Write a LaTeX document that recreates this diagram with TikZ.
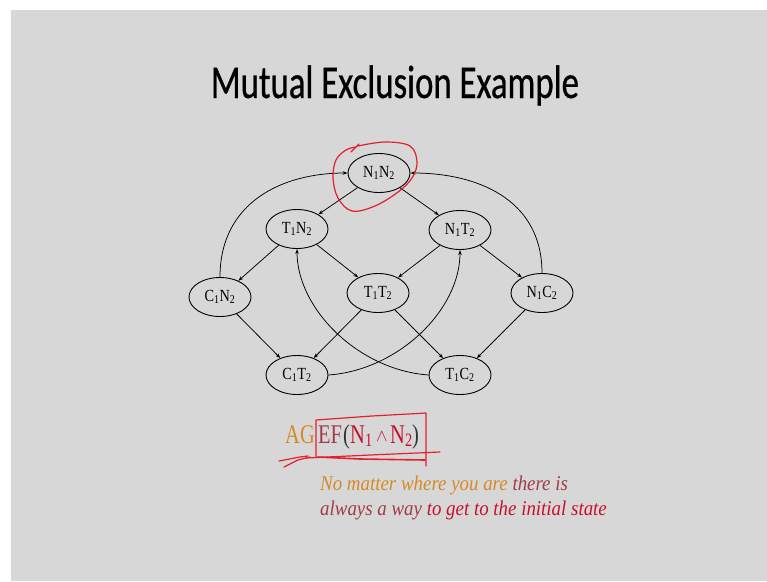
\documentclass[tikz,border=0pt]{standalone}
\usepackage{fontspec}
\setmainfont{Liberation Serif}[FakeStretch=0.76]
\newfontfamily\titlefont{Carlito}[FakeStretch=0.74,FakeBold=0.6]
\newfontfamily\nodefont{Liberation Serif}[FakeStretch=0.84]
\newfontfamily\notefont{Liberation Serif}[FakeStretch=0.9]
\usetikzlibrary{arrows.meta,shapes.geometric}
\definecolor{slidegrey}{HTML}{D7D7D7}
\definecolor{agorange}{HTML}{D58A27}
\definecolor{mauve}{HTML}{A23A4C}
\definecolor{crimson}{HTML}{C8102E}
\definecolor{pen}{HTML}{E3202C}
\tikzset{
  state/.style={ellipse,draw=black,line width=0.9pt,minimum width=62pt,minimum height=39pt,inner sep=0pt,
    font=\nodefont\fontsize{17}{20}\selectfont},
  edge/.style={line width=0.75pt,-{Stealth[length=5pt,width=3.6pt]}},
  ink/.style={draw=pen,line width=1.2pt,line cap=round,line join=round},
  fpart/.style={anchor=base west,inner sep=0pt,font=\fontsize{27}{30}\selectfont},
  note/.style={anchor=base west,inner sep=0pt,font=\notefont\itshape\fontsize{21}{25}\selectfont},
}
\begin{document}
\begin{tikzpicture}[x=1pt,y=-1pt]
\useasboundingbox (0,0) rectangle (767,581);
\fill[white] (0,0) rectangle (767,581);
\fill[slidegrey] (11,10) rectangle (767,581);

\node[anchor=base,font=\titlefont\fontsize{47}{50}\selectfont] (title) at (395,98) {Mutual Exclusion Example};

\node[state] (nn) at (379,173) {N\textsubscript{1}N\textsubscript{2}};
\node[state] (tn) at (297,229) {T\textsubscript{1}N\textsubscript{2}};
\node[state] (nt) at (460,230) {N\textsubscript{1}T\textsubscript{2}};
\node[state] (cn) at (220,297) {C\textsubscript{1}N\textsubscript{2}};
\node[state] (tt) at (378,293) {T\textsubscript{1}T\textsubscript{2}};
\node[state] (nc) at (542,293) {N\textsubscript{1}C\textsubscript{2}};
\node[state] (ct) at (297,375) {C\textsubscript{1}T\textsubscript{2}};
\node[state] (tc) at (460,375) {T\textsubscript{1}C\textsubscript{2}};

\draw[edge] (nn) -- (tn);
\draw[edge] (nn) -- (nt);
\draw[edge] (tn) -- (cn);
\draw[edge] (tn) -- (tt);
\draw[edge] (nt) -- (tt);
\draw[edge] (nt) -- (nc);
\draw[edge] (cn) -- (ct);
\draw[edge] (tt) -- (ct);
\draw[edge] (tt) -- (tc);
\draw[edge] (nc) -- (tc);
\draw[edge] (cn.north) .. controls +(0,-75) and +(-65,0) .. (nn.west);
\draw[edge] (nc.north) .. controls +(0,-75) and +(65,0) .. (nn.east);
\draw[edge] (ct.east) .. controls +(70,-5) and +(0,60) .. (nt.south);
\draw[edge] (tc.west) .. controls +(-70,-5) and +(0,60) .. (tn.south);

% formula AG EF (N1 ^ N2)
\node[fpart,text=agorange] (fag) at (285,443) {AG};
\node[fpart,text=mauve] (fef) at (318,443) {EF};
\node[fpart,text=black!80] (fop) at (343,443) {(};
\node[fpart,text=crimson] (fn1) at (350,443) {N\textsubscript{1}};
\node[anchor=base west,inner sep=0pt,text=crimson,font=\fontsize{18}{20}\selectfont] (fand) at (376,441) {$\wedge$};
\node[fpart,text=crimson] (fn2) at (390,443) {N\textsubscript{2}};
\node[fpart,text=black!80] (fcp) at (412,443) {)};

\node[note] (line1) at (320,490)
  {\color{agorange}No matter where you are \color{mauve}there is};
\node[note] (line2) at (320,515)
  {\color{mauve}always a way \color{crimson}to get to the initial state};

% red pen annotations
\draw[ink] plot[smooth,tension=0.6] coordinates {(358,146) (385,142) (410,146) (417,162) (412,178) (398,192) (375,206) (352,211) (338,198) (333,178) (336,160) (346,150) (356,147)};
\draw[ink] (351,152) -- (359,144);
\draw[ink] (316,457) -- (316,420) -- (372,416) -- (426,413) -- (426,466);
\draw[ink] (279,461) -- (300,457) -- (308,456);
\draw[ink] (284,467) -- (298,460) -- (310,457);
\draw[ink] (306,458) -- (370,455) -- (440,452);
\draw[ink,line width=1.6pt] (318,457) -- (360,459) -- (425,460);
\end{tikzpicture}
\end{document}
